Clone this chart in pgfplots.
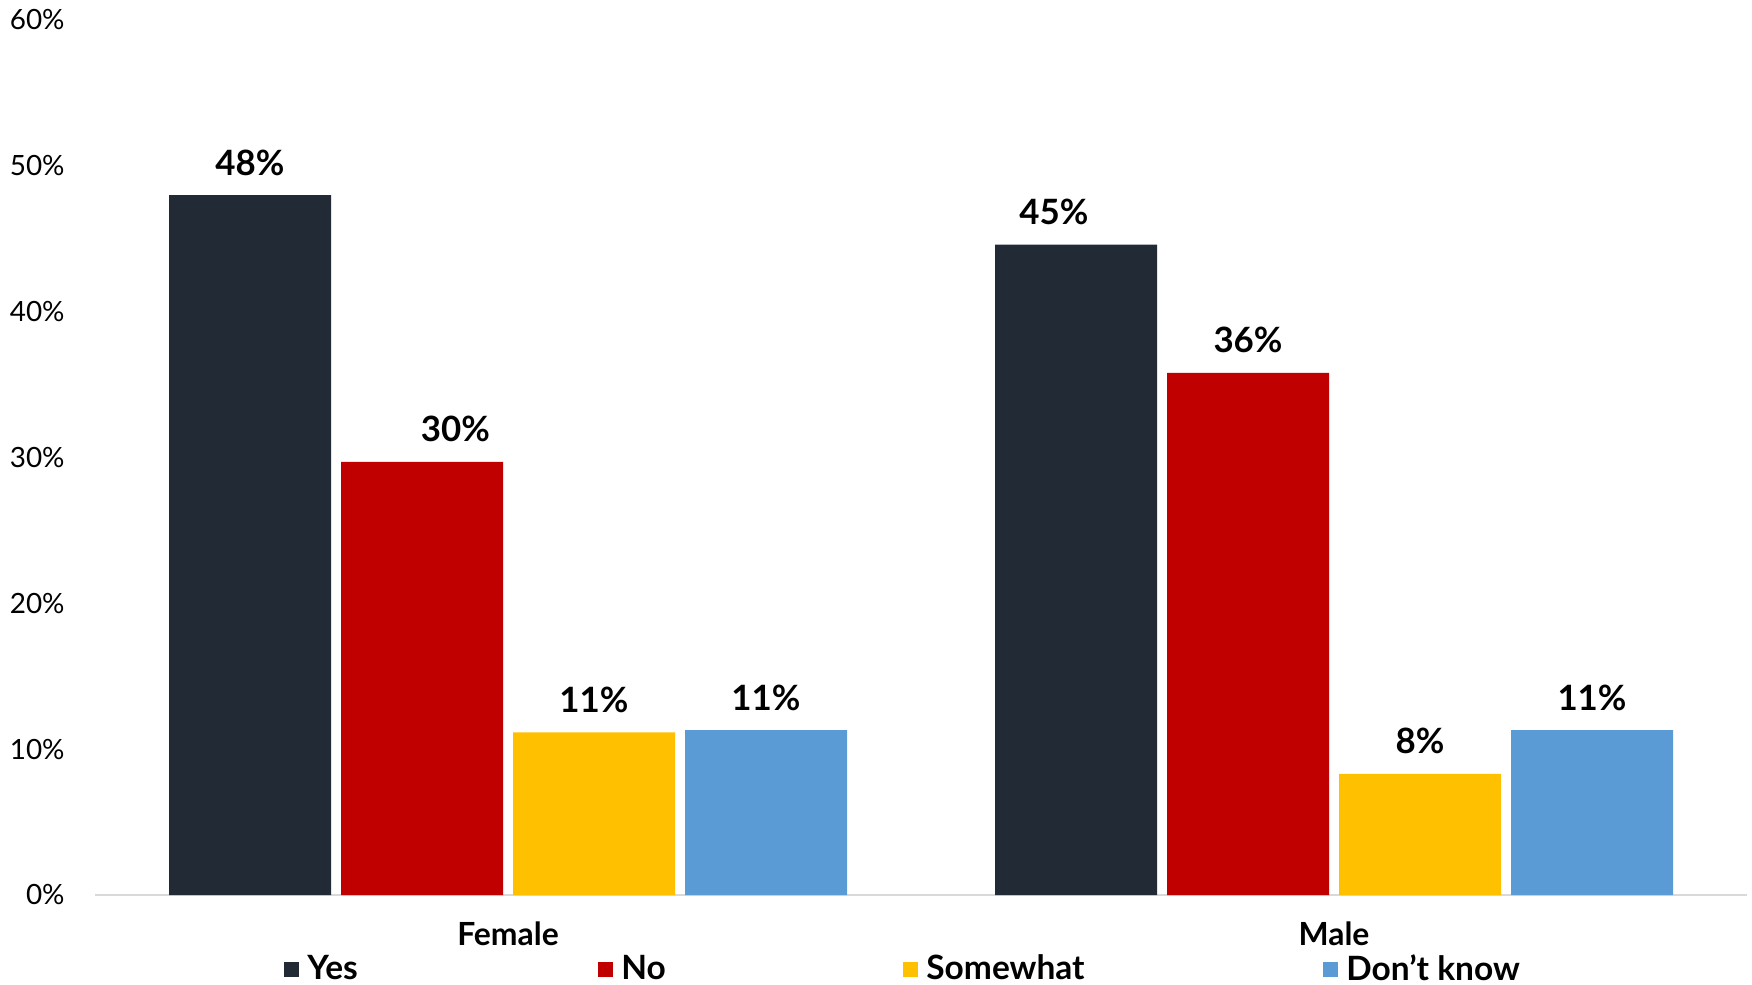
\documentclass[border=0pt]{standalone}
\usepackage{pgfplots}
\pgfplotsset{compat=1.18}
\usepackage{fontspec}
\setmainfont{Lato}
\definecolor{cyes}{HTML}{222A35}
\definecolor{cno}{HTML}{C00000}
\definecolor{csome}{HTML}{FFC000}
\definecolor{cdk}{HTML}{5B9BD5}
\definecolor{axgray}{HTML}{D9D9D9}
\begin{document}
\begin{tikzpicture}
\path[use as bounding box] (-47.5bp,-45bp) rectangle (828.5bp,447.5bp);
\begin{axis}[
  at={(0,0)}, anchor=south west,
  scale only axis, width=826bp, height=437.5bp,
  xmin=-0.5, xmax=1.5, ymin=0, ymax=60,
  ybar=5bp, bar width=81bp,
  axis x line=bottom, axis y line=left,
  x axis line style={-, draw=axgray, line width=1bp},
  y axis line style={draw=none},
  major tick length=0pt,
  xtick={0,1}, xticklabels={Female,Male},
  ytick={0,10,20,30,40,50,60},
  yticklabel={\pgfmathprintnumber{\tick}\%},
  /pgf/number format/assume math mode=true,
  yticklabel style={font=\fontsize{14}{16}\selectfont, inner sep=0pt, anchor=east, xshift=-15bp},
  xticklabel style={font=\fontsize{16}{18}\selectfont\bfseries, inner sep=0pt, anchor=north, yshift=-13bp},
  nodes near coords,
  point meta=explicit symbolic,
  every node near coord/.append style={font=\fontsize{17.5}{20}\selectfont\bfseries, inner sep=0pt, anchor=base, yshift=10bp},
  legend columns=4,
  legend style={at={(0.1144,-0.0846)}, anchor=west, draw=none, fill=none, inner sep=0pt,
    font=\fontsize{16.8}{18}\selectfont\bfseries,
    nodes={inner sep=0pt, anchor=west},
    /tikz/every odd column/.append style={column sep=4bp},
    /tikz/every even column/.append style={column sep=0bp}},
]
\addplot[fill=cyes, draw=none, legend image code/.code={\fill[cyes] (0bp,-3.75bp) rectangle (7.5bp,3.75bp);}]
  coordinates {(0,48.0) [48\%] (1,44.6) [45\%\hspace*{22bp}]};
\addlegendentry{\makebox[145.5bp][l]{Yes}}
\addplot[fill=cno, draw=none, legend image code/.code={\fill[cno] (0bp,-3.75bp) rectangle (7.5bp,3.75bp);}]
  coordinates {(0,29.7) [\hspace*{33.5bp}30\%] (1,35.8) [36\%]};
\addlegendentry{\makebox[141bp][l]{No}}
\addplot[fill=csome, draw=none, legend image code/.code={\fill[csome] (0bp,-3.75bp) rectangle (7.5bp,3.75bp);}]
  coordinates {(0,11.15) [11\%] (1,8.3) [8\%]};
\addlegendentry{\makebox[198.5bp][l]{Somewhat}}
\addplot[fill=cdk, draw=none, legend image code/.code={\fill[cdk] (0bp,-3.75bp) rectangle (7.5bp,3.75bp);}]
  coordinates {(0,11.3) [11\%] (1,11.3) [11\%]};
\addlegendentry{Don’t know}
\end{axis}
\end{tikzpicture}
\end{document}
